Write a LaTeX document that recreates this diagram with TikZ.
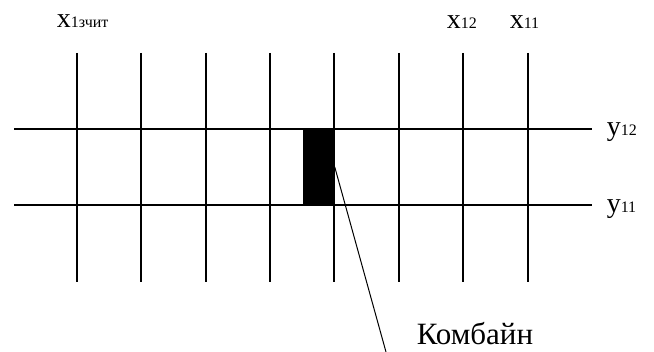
\documentclass[tikz,border=0pt]{standalone}
\usepackage{fontspec}
\setmainfont{Liberation Serif}
\newcommand{\gridlbl}[2]{{\fontsize{28}{28}\selectfont #1}{\fontsize{16}{16}\selectfont #2}}
\begin{document}
\begin{tikzpicture}[x=1pt,y=-1pt,line width=1.5pt]
    \useasboundingbox (0,0) rectangle (654,352);
    % Nodes
    \node[anchor=base west, inner sep=0] (X13) at (56,28) {\gridlbl{x}{1зчит}};
    \node[anchor=base west, inner sep=0] (X12) at (446,29) {\gridlbl{x}{12}};
    \node[anchor=base west, inner sep=0] (X11) at (509,29) {\gridlbl{x}{11}};
    \node[anchor=base west, inner sep=0] (Y12) at (606,136) {\gridlbl{y}{12}};
    \node[anchor=base west, inner sep=0] (Y11) at (606,213) {\gridlbl{y}{11}};

    \node[fill=black, inner sep=0, minimum width=31pt, minimum height=76pt] (Comb) at (318.5,167) {};
    \node[anchor=base west, inner sep=0, font=\fontsize{31}{31}\selectfont] (CombLbl) at (416,345) {Комбайн};
    \coordinate (LeadEnd) at (386,352);

    % Lines
    \draw[-] (77,53) -- (77,282);
    \draw[-] (141,53) -- (141,282);
    \draw[-] (206,53) -- (206,282);
    \draw[-] (270,53) -- (270,282);
    \draw[-] (334,53) -- (334,282);
    \draw[-] (399,53) -- (399,282);
    \draw[-] (463,53) -- (463,282);
    \draw[-] (528,53) -- (528,282);

    \draw[-] (14,129) -- (592,129);
    \draw[-] (14,205) -- (592,205);

    \draw[-, line width=1pt] (Comb.east) -- (LeadEnd);
\end{tikzpicture}
\end{document}
